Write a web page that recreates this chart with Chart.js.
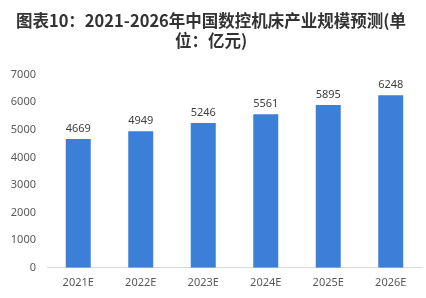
<!DOCTYPE html>
<html>
<head>
<meta charset="utf-8">
<script src="https://cdn.jsdelivr.net/npm/chart.js@4"></script>
<style>
  html, body { margin: 0; padding: 0; background: #fff; }
  #wrap { width: 426px; height: 298px; position: relative; }
</style>
</head>
<body>
<div id="wrap"><canvas id="chart"></canvas></div>
<script>
const titleLines = ["图表10：2021-2026年中国数控机床产业规模预测(单", "位：亿元)"];
const years = ["2021E", "2022E", "2023E", "2024E", "2025E", "2026E"];
const scale = [4669, 4949, 5246, 5561, 5895, 6248];
const yTicks = [0, 1000, 2000, 3000, 4000, 5000, 6000, 7000];

// value labels above the bars
const barLabels = {
    id: "barLabels",
    afterDatasetsDraw(chart) {
        let ctx = chart.ctx;
        let meta = chart.getDatasetMeta(0);
        ctx.save();
        ctx.font = "11px 'Noto Sans', sans-serif";
        ctx.fillStyle = "#404040";
        ctx.textAlign = "center";
        ctx.textBaseline = "bottom";
        meta.data.forEach((bar, i) => {
            ctx.fillText(String(scale[i]), bar.x, bar.y - 5);
        });
        ctx.restore();
    }
};

new Chart("chart", {
    type: "bar",
    data: {
        labels: years,
        datasets: [{
            data: scale,
            backgroundColor: "#3b7fd9",
            barPercentage: 0.4,
            categoryPercentage: 1.0
        }]
    },
    options: {
        responsive: true,
        maintainAspectRatio: false,
        animation: false,
        layout: { padding: { left: 0, right: 4, top: 11, bottom: 1 } },
        plugins: {
            legend: { display: false },
            tooltip: { enabled: false },
            title: {
                display: true,
                text: titleLines,
                color: "#333",
                font: { family: "'Noto Sans CJK SC', sans-serif", size: 16.5, weight: "bold", lineHeight: 1.2 },
                padding: { top: 0, bottom: 24 }
            }
        },
        scales: {
            x: {
                grid: { display: false, drawTicks: false },
                border: { display: true, color: "#d9d9d9" },
                ticks: { color: "#595959", font: { family: "'Noto Sans', sans-serif", size: 11 }, padding: 8 }
            },
            y: {
                min: 0,
                max: 7000,
                afterFit: axis => { axis.width = 47; },
                afterBuildTicks: axis => { axis.ticks = yTicks.map(v => ({ value: v })); },
                grid: { display: false, drawTicks: false },
                border: { display: false },
                ticks: {
                    color: "#595959",
                    font: { family: "'Noto Sans', sans-serif", size: 11 },
                    padding: 11,
                    callback: v => String(v)
                }
            }
        }
    },
    plugins: [barLabels]
});
</script>
</body>
</html>
